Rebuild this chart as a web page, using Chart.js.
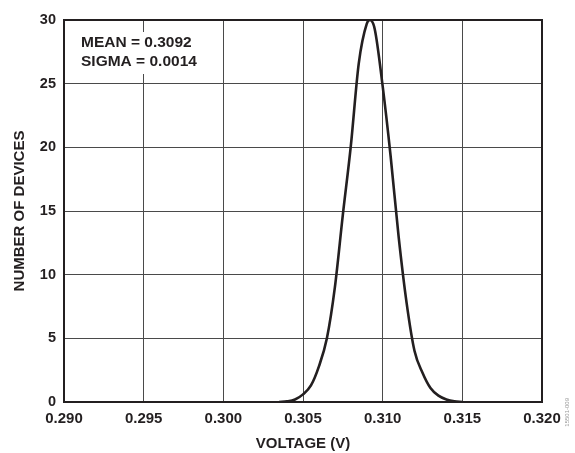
<!DOCTYPE html>
<html>
<head>
<meta charset="utf-8">
<title>Voltage distribution</title>
<script src="https://cdn.jsdelivr.net/npm/chart.js@4.4.1/dist/chart.umd.min.js"></script>
<style>
  html, body { margin: 0; padding: 0; background: #fff; }
  #wrap { width: 575px; height: 453px; }
</style>
</head>
<body>
<div id="wrap"><canvas id="mycanvas" width="575" height="453"></canvas></div>
<script>
// values
var voltage = [0.3035, 0.3040, 0.3045, 0.3050, 0.3055, 0.3060, 0.3065, 0.3070, 0.3075, 0.3080, 0.3085, 0.3090, 0.3092,
               0.3095, 0.3100, 0.3105, 0.3110, 0.3115, 0.3120, 0.3125, 0.3130, 0.3135, 0.3140, 0.3145, 0.3150];
var devices = [0, 0.05, 0.2, 0.6, 1.3, 2.8, 5.0, 9.0, 14.7, 20.1, 26.6, 29.7, 30,
               29.3, 24.8, 19.3, 13.0, 7.8, 4.0, 2.3, 1.1, 0.5, 0.2, 0.05, 0];
var xTicks = [0.290, 0.295, 0.300, 0.305, 0.310, 0.315, 0.320];
var yTicks = [0, 5, 10, 15, 20, 25, 30];
var notes = ["MEAN = 0.3092", "SIGMA = 0.0014"];

var FONT = "'Liberation Sans', Arial, Helvetica, sans-serif";
var INK = '#231f20';

var points = [];
for (var i in voltage) {
    points.push({x: voltage[i], y: devices[i]});
}

// frame around the plot, the text box and the small figure number
var extras = {
    id: 'extras',
    afterDatasetsDraw: function(chart) {
        var ctx = chart.ctx;
        var a = chart.chartArea;
        ctx.save();
        ctx.fillStyle = '#fff';
        ctx.fillRect(a.left + 13, a.top + 12, 120, 42);
        ctx.fillStyle = INK;
        ctx.font = "bold 15.5px " + FONT;
        ctx.textBaseline = 'middle';
        ctx.textAlign = 'left';
        ctx.fillText(notes[0], a.left + 17, a.top + 23);
        ctx.fillText(notes[1], a.left + 17, a.top + 42);

        ctx.strokeStyle = INK;
        ctx.lineWidth = 2;
        ctx.strokeRect(a.left, a.top, a.right - a.left, a.bottom - a.top);

        ctx.translate(567, 398);
        ctx.rotate(-Math.PI / 2);
        ctx.fillStyle = '#9a9a9a';
        ctx.font = "6px " + FONT;
        ctx.textAlign = 'right';
        ctx.fillText('15501-009', 0, 0);
        ctx.restore();
    }
};

var ctx = document.getElementById('mycanvas');

var chart = new Chart(ctx, {
    type: 'line',
    data: {
        datasets: [{
            data: points,
            borderColor: INK,
            borderWidth: 2.6,
            pointRadius: 0,
            fill: false,
            cubicInterpolationMode: 'monotone'
        }]
    },
    options: {
        responsive: false,
        animation: false,
        layout: { padding: { left: 0, top: 20, right: 33, bottom: 0 } },
        plugins: { legend: { display: false }, tooltip: { enabled: false } },
        scales: {
            x: {
                type: 'linear',
                min: 0.290,
                max: 0.320,
                afterBuildTicks: function(scale) {
                    scale.ticks = xTicks.map(function(v) { return {value: v}; });
                },
                afterFit: function(scale) { scale.height = 51; },
                ticks: {
                    padding: 8,
                    maxRotation: 0,
                    color: INK,
                    font: { family: FONT, size: 15, weight: 'bold' },
                    callback: function(v) { return Number(v).toFixed(3); }
                },
                grid: { color: '#4a4a4a', lineWidth: 1, drawTicks: false },
                border: { display: false },
                title: {
                    display: true,
                    text: 'VOLTAGE (V)',
                    color: INK,
                    padding: { top: 0, bottom: 0 },
                    font: { family: FONT, size: 15, weight: 'bold' }
                }
            },
            y: {
                min: 0,
                max: 30,
                afterBuildTicks: function(scale) {
                    scale.ticks = yTicks.map(function(v) { return {value: v}; });
                },
                afterFit: function(scale) { scale.width = 64; },
                ticks: {
                    padding: 8,
                    color: INK,
                    font: { family: FONT, size: 14.5, weight: 'bold' }
                },
                grid: { color: '#4a4a4a', lineWidth: 1, drawTicks: false },
                border: { display: false },
                title: {
                    display: true,
                    text: 'NUMBER OF DEVICES',
                    color: INK,
                    padding: { top: 11, bottom: 0 },
                    font: { family: FONT, size: 15, weight: 'bold' }
                }
            }
        }
    },
    plugins: [extras]
});
</script>
</body>
</html>
